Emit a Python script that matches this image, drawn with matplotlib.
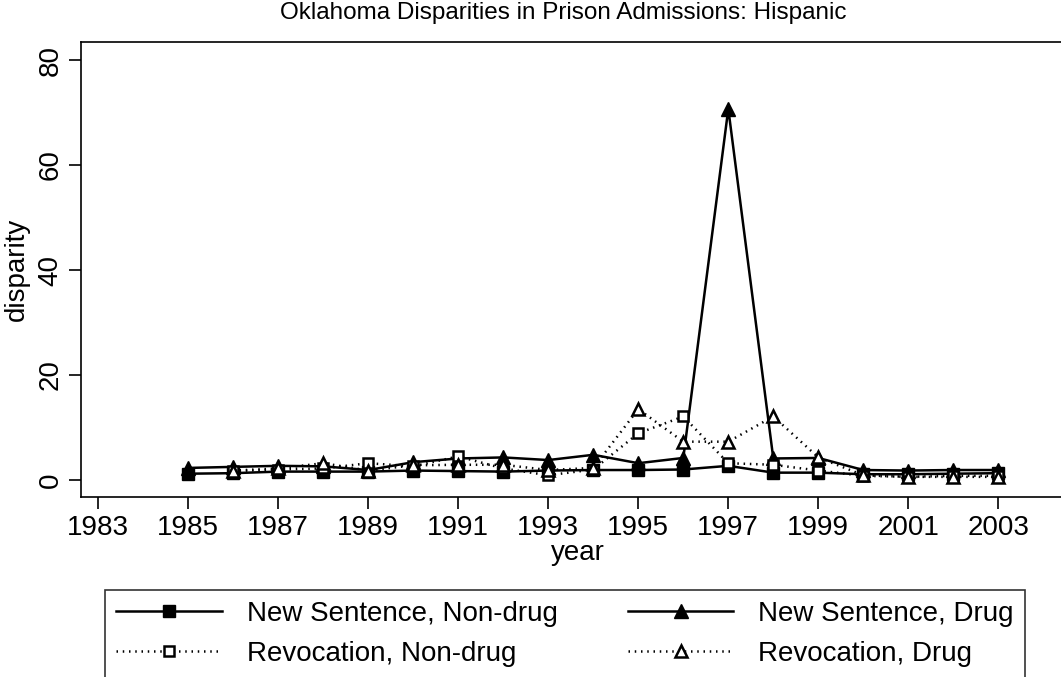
import numpy as np
import matplotlib
matplotlib.use("Agg")
import matplotlib.pyplot as plt

years = list(range(1985, 2004))
ns_nondrug = [1.2, 1.3, 1.6, 1.6, 1.6, 1.8, 1.7, 1.6, 1.8, 1.9, 1.9, 2.0, 2.7, 1.4, 1.4, 1.1, 1.1, 1.2, 1.3]
ns_drug = [2.3, 2.5, 2.7, 2.6, 1.9, 3.4, 4.1, 4.3, 3.8, 4.8, 3.2, 4.2, 70.7, 4.1, 4.2, 1.9, 1.8, 1.9, 1.9]
rev_nondrug = [np.nan, 1.7, 2.0, 2.2, 3.2, 2.6, 4.5, 2.2, 0.9, 2.0, 8.9, 12.1, 3.2, 2.9, 1.8, 0.8, 0.6, 0.8, 0.8]
rev_drug = [np.nan, 1.8, 2.2, 3.2, 1.8, 2.8, 2.9, 2.9, 1.9, 2.3, 13.5, 7.3, 7.3, 12.1, 4.3, 0.9, 0.6, 0.6, 0.6]

labels = ["New Sentence, Non-drug", "Revocation, Non-drug", "New Sentence, Drug", "Revocation, Drug"]
xticks = list(range(1983, 2004, 2))
yticks = [0, 20, 40, 60, 80]

plt.rcParams['font.family'] = ['Liberation Sans', 'DejaVu Sans']
FS = 20
TFS = 17.5

W, H = 1061, 677
fig = plt.figure(figsize=(W / 100, H / 100), dpi=100)
left, right, top, bottom = 80.5, 1075, 41.7, 497
ax = fig.add_axes([left / W, 1 - bottom / H, (right - left) / W, (bottom - top) / H])

lw = 1.8
l1, = ax.plot(years, ns_nondrug, color='black', lw=lw, marker='s', ms=8.2, mfc='black', mec='black')
l3, = ax.plot(years, ns_drug, color='black', lw=lw, marker='^', ms=9.5, mfc='black', mec='black')
dot = (0, (0.6, 1.9))
l2, = ax.plot(years, rev_nondrug, color='black', lw=lw, ls=dot, marker='s', ms=7.5, mfc='white', mec='black', mew=1.8)
l4, = ax.plot(years, rev_drug, color='black', lw=lw, ls=dot, marker='^', ms=9, mfc='white', mec='black', mew=1.8)

px_per_year = 45.0
x0 = 1985 - (188.3 - left) / px_per_year
ax.set_xlim(x0, x0 + (right - left) / px_per_year)
ax.set_ylim(-(bottom - 480) / 5.25, (480 - top) / 5.25)

ax.set_xticks(xticks)
ax.set_yticks(yticks)
ax.tick_params(axis='both', direction='out', length=8.6, width=1.2, labelsize=FS, color='black')
ax.tick_params(axis='x', pad=4.5)
ax.tick_params(axis='y', pad=3.6)
for lab in ax.get_yticklabels():
    lab.set_rotation(90)
    lab.set_va('center')
for s in ['left', 'bottom', 'top']:
    ax.spines[s].set_linewidth(1.2)
ax.spines['right'].set_visible(False)

ax.set_xlabel("year", fontsize=FS, labelpad=-1)
ax.set_ylabel("disparity", fontsize=FS, labelpad=5.5)
fig.text(563 / W, 1 - 13 / H, "Oklahoma Disparities in Prison Admissions: Hispanic",
         ha='center', va='center', fontsize=TFS)

handles = [l1, l2, l3, l4]
leg = fig.legend(handles, labels, ncol=2, loc='upper left',
                 bbox_to_anchor=(105 / W, 1 - 590 / H, (1025 - 105) / W, 0.0),
                 mode='expand', fontsize=FS, frameon=True, fancybox=False,
                 edgecolor='black', handlelength=3.8, handletextpad=0.9,
                 borderpad=0.4, labelspacing=0.5, columnspacing=1.0, borderaxespad=0)
leg.get_frame().set_linewidth(1.2)

fig.savefig("out.png", dpi=100)
